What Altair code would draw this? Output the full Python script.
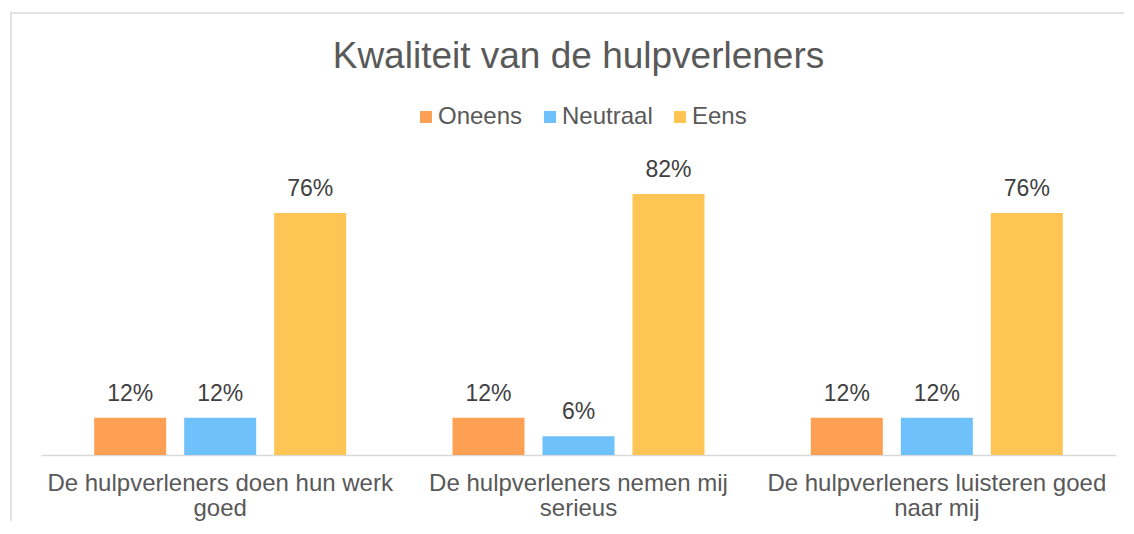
import altair as alt
import pandas as pd

categories = [
    "De hulpverleners doen hun werk\ngoed",
    "De hulpverleners nemen mij\nserieus",
    "De hulpverleners luisteren goed\nnaar mij",
]
series = ["Oneens", "Neutraal", "Eens"]
oneens = [11.8, 11.8, 11.8]
neutraal = [11.8, 5.9, 11.8]
eens = [76.4, 82.4, 76.4]
colors = ["#FDA054", "#6FC1FB", "#FEC454"]

rows = []
for i, c in enumerate(categories):
    for s, vals in zip(series, [oneens, neutraal, eens]):
        rows.append({"categorie": c, "reeks": s, "waarde": vals[i]})
df = pd.DataFrame(rows)

FONT = "Liberation Sans"

base = alt.Chart(df).encode(
    x=alt.X(
        "categorie:N",
        sort=categories,
        scale=alt.Scale(paddingInner=0.2465, paddingOuter=0.1233),
        axis=alt.Axis(
            title=None,
            labelExpr="split(datum.label, '\\n')",
            labelAngle=0,
            labelFontSize=24,
            labelColor="#595959",
            labelFont=FONT,
            labelLineHeight=25,
            labelPadding=16,
            labelLimit=400,
            labelOverlap=False,
            ticks=False,
            domainColor="#d9d9d9",
            domainWidth=1.5,
            grid=False,
        ),
    ),
    xOffset=alt.XOffset(
        "reeks:N", sort=series, scale=alt.Scale(paddingInner=0.2, paddingOuter=0.1)
    ),
    y=alt.Y("waarde:Q", scale=alt.Scale(domain=[0, 90]), axis=None),
)

bars = base.mark_bar().encode(
    color=alt.Color(
        "reeks:N",
        sort=series,
        scale=alt.Scale(domain=series, range=colors),
        legend=alt.Legend(
            title=None,
            orient="none",
            legendX=373,
            legendY=-65,
            direction="horizontal",
            symbolType="square",
            symbolSize=144,
            symbolStrokeWidth=0,
            labelFontSize=24,
            labelColor="#595959",
            labelFont=FONT,
            columnPadding=15,
            labelOffset=0,
            padding=0,
        ),
    )
)

labels = base.transform_calculate(
    lab="format(datum.waarde, '.0f') + '%'"
).mark_text(
    dy=-17, baseline="alphabetic", fontSize=23, color="#404040", font=FONT
).encode(text="lab:N")

frame = alt.Chart(pd.DataFrame({"a": [0]})).mark_rect(
    fillOpacity=0, stroke="#d9d9d9", strokeWidth=1.5
).encode(
    x=alt.value(-30), x2=alt.value(1110), y=alt.value(-157), y2=alt.value(400)
)

chart = alt.layer(frame, bars, labels).properties(
    width=1075,
    height=285,
    padding={"left": 33, "top": 162, "right": 8, "bottom": 66},
    autosize=alt.AutoSizeParams(type="none"),
    title=alt.TitleParams(
        "Kwaliteit van de hulpverleners",
        fontSize=37,
        font=FONT,
        color="#595959",
        fontWeight="normal",
        anchor="middle",
        baseline="alphabetic",
        offset=-93,
    ),
).configure_view(strokeWidth=0)

chart.save("out.html", embed_options={"renderer": "svg", "actions": False})
